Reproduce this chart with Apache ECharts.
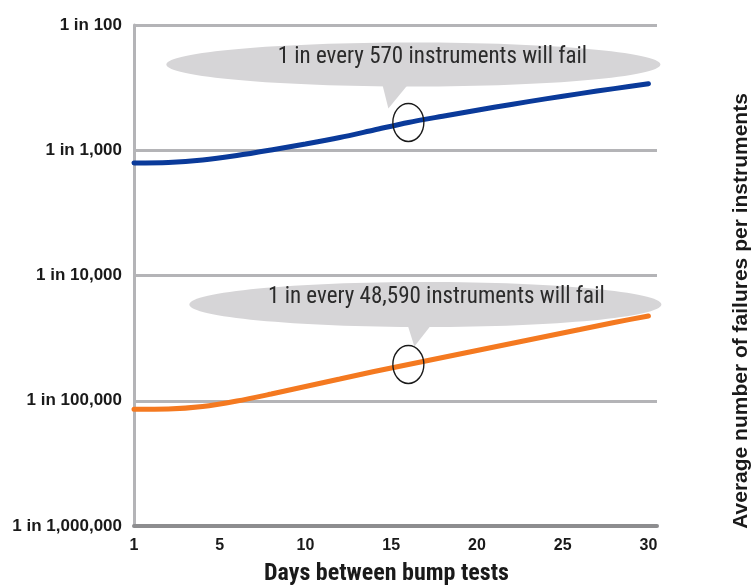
<!DOCTYPE html>
<html>
<head>
<meta charset="utf-8">
<script src="https://cdn.jsdelivr.net/npm/echarts@6/dist/echarts.min.js"></script>
<style>
  html, body { margin: 0; padding: 0; background: #fff; }
  #main { width: 753px; height: 585px; }
</style>
</head>
<body>
<div id="main"></div>
<script>
// x position 0 is the axis origin, labelled "1"
var days = [0, 2, 4, 6, 8, 10, 12, 14, 16, 18, 20, 22, 24, 26, 28, 30];
// "1 in N" values
var blueSeries = [1265, 1253, 1197, 1102, 995, 891, 791, 689, 600, 535, 479, 431, 389, 353, 322, 294];
var orangeSeries = [117000, 116400, 111200, 100500, 88350, 76950, 67050, 58420, 51340, 45140, 39700, 34900, 30690, 26990, 23730, 21060];
var xTickLabels = {0: '1', 5: '5', 10: '10', 15: '15', 20: '20', 25: '25', 30: '30'};
var noteDay = 16;
var blueNote = '1 in every 570 instruments will fail';
var orangeNote = '1 in every 48,590 instruments will fail';

var condensed = '"Liberation Sans Narrow", "Arial Narrow", "Roboto Condensed", "Liberation Sans", sans-serif';
var plain = '"Liberation Sans", Arial, sans-serif';
var chart = echarts.init(document.getElementById('main'));

function zip(xs, ys) {
    return xs.map(function (x, i) { return [x, ys[i]]; });
}

function ring(val) {
    return {
        symbol: 'circle',
        symbolSize: [31, 38],
        silent: true,
        itemStyle: { color: 'rgba(0,0,0,0)', borderColor: '#1a1a1a', borderWidth: 1.5 },
        label: { show: false },
        data: [{ coord: [noteDay, val] }]
    };
}

chart.setOption({
    animation: false,
    grid: { left: 134, right: 96, top: 25, bottom: 59, outerBoundsMode: 'none' },
    xAxis: {
        type: 'value',
        min: 0,
        max: 30.5,
        interval: 5,
        axisLine: { lineStyle: { color: '#8d8d8f', width: 4 } },
        axisTick: { show: false },
        splitLine: { show: false },
        axisLabel: {
            margin: 12,
            color: '#1a1a1a',
            fontWeight: 'bold',
            fontSize: 16,
            fontFamily: plain,
            formatter: function (v) { return xTickLabels[v] || ''; }
        },
        name: 'Days between bump tests',
        nameLocation: 'middle',
        nameGap: 36,
        nameTextStyle: {
            color: '#1a1a1a', fontWeight: 'bold', fontSize: 24, fontFamily: condensed,
            padding: [0, 18, 0, 0]
        }
    },
    yAxis: {
        type: 'log',
        logBase: 10,
        min: 100,
        max: 1000000,
        inverse: true,
        axisLine: { show: true, lineStyle: { color: '#b4b4b7', width: 3 } },
        axisTick: { show: false },
        splitLine: { show: true, lineStyle: { color: '#b4b4b7', width: 3 } },
        axisLabel: {
            margin: 12,
            color: '#1a1a1a',
            fontWeight: 'bold',
            fontSize: 17,
            fontFamily: plain,
            padding: [0, 0, 10, 0],
            formatter: function (v) { return '1 in ' + Math.round(v).toLocaleString('en-US'); }
        }
    },
    series: [
        {
            type: 'line',
            data: zip(days, blueSeries),
            smooth: 0.3,
            showSymbol: false,
            lineStyle: { color: '#0a3a9a', width: 5, cap: 'round' },
            markPoint: ring(600),
            z: 3
        },
        {
            type: 'line',
            data: zip(days, orangeSeries),
            smooth: 0.3,
            showSymbol: false,
            lineStyle: { color: '#f47920', width: 5, cap: 'round' },
            markPoint: ring(51340),
            z: 3
        }
    ]
});

// callout bubbles anchored to the circled points
function bubble(val, text, o) {
    var p = chart.convertToPixel({ gridIndex: 0 }, [noteDay, val]);
    var cx = p[0] + o.dx, cy = p[1] + o.dy;
    return [
        {
            type: 'ellipse', z: 1, silent: true,
            shape: { cx: cx, cy: cy, rx: o.rx, ry: o.ry },
            style: { fill: '#d6d5d7' }
        },
        {
            type: 'polygon', z: 1, silent: true,
            shape: { points: [[p[0] + o.b0, cy + o.ry - 6], [p[0] + o.b1, cy + o.ry - 6], [p[0] + o.tx, p[1] + o.ty]] },
            style: { fill: '#d6d5d7' }
        },
        {
            type: 'text', z: 2, silent: true,
            x: p[0] + o.textDx, y: cy - 7,
            style: {
                text: text, fill: '#2b2b2b', fontSize: 23, fontFamily: condensed,
                align: 'center', verticalAlign: 'middle'
            }
        }
    ];
}

var els = []
    .concat(bubble(600, blueNote, { dx: 5, dy: -58, rx: 247, ry: 22, b0: -27, b1: 3, tx: -20, ty: -14, textDx: 24 }))
    .concat(bubble(51340, orangeNote, { dx: 17, dy: -60, rx: 236, ry: 22.5, b0: -2, b1: 26, tx: 6, ty: -18, textDx: 28 }));

els.push({
    type: 'text',
    x: 741, y: 311,
    rotation: Math.PI / 2,
    style: {
        text: 'Average number of failures per instruments',
        fill: '#1a1a1a', fontWeight: 'bold', fontSize: 21, fontFamily: plain,
        align: 'center', verticalAlign: 'middle'
    }
});

chart.setOption({ graphic: { elements: els } });
</script>
</body>
</html>
